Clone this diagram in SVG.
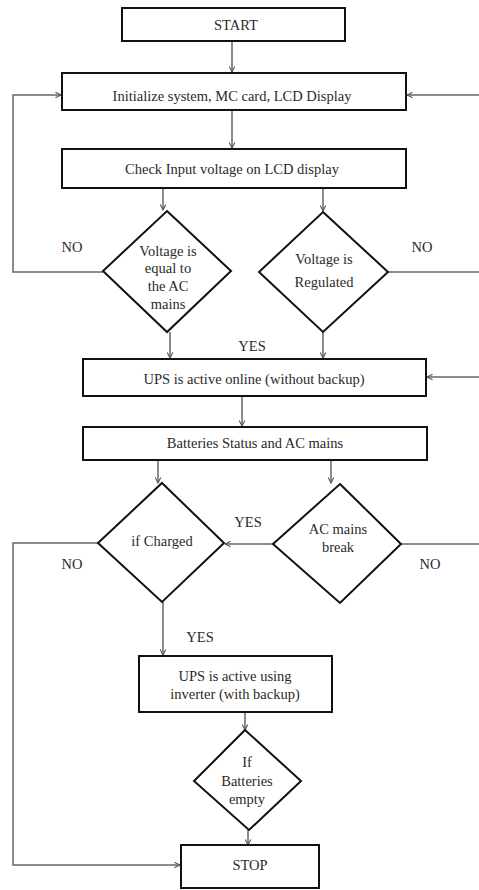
<svg xmlns="http://www.w3.org/2000/svg" width="479" height="890" viewBox="0 0 479 890">
<style>
.box{fill:#fff;stroke:#111;stroke-width:2}
.t{font-family:"Liberation Serif","Times New Roman",serif;font-size:14.5px;fill:#2a2a2a;text-anchor:middle}
.c{fill:none;stroke:#666;stroke-width:1.5}
</style>
<defs>
<marker id="ah" viewBox="0 0 10 10" refX="9" refY="5" markerWidth="7" markerHeight="7" orient="auto" markerUnits="userSpaceOnUse">
<path d="M1,1 L9,5 L1,9" fill="none" stroke="#555" stroke-width="1.5"/>
</marker>
</defs>
<rect width="479" height="890" fill="#fff"/>
<g id="connectors">
<path class="c" d="M232,42 V72" marker-end="url(#ah)"/>
<path class="c" d="M232,110 V148" marker-end="url(#ah)"/>
<path class="c" d="M163,188 V210" marker-end="url(#ah)"/>
<path class="c" d="M323,188 V211" marker-end="url(#ah)"/>
<path class="c" d="M103,272 H13 V95 H61" marker-end="url(#ah)"/>
<path class="c" d="M388,272 H479"/>
<path class="c" d="M479,95 H407" marker-end="url(#ah)"/>
<path class="c" d="M170,332 V358" marker-end="url(#ah)"/>
<path class="c" d="M323,332 V358" marker-end="url(#ah)"/>
<path class="c" d="M479,377 H427" marker-end="url(#ah)"/>
<path class="c" d="M242,396 V426" marker-end="url(#ah)"/>
<path class="c" d="M158,460 V483" marker-end="url(#ah)"/>
<path class="c" d="M331,460 V483" marker-end="url(#ah)"/>
<path class="c" d="M273,544 H225" marker-end="url(#ah)"/>
<path class="c" d="M98,543 H13 V865 H180" marker-end="url(#ah)"/>
<path class="c" d="M401,544 H479"/>
<path class="c" d="M163,602 V655" marker-end="url(#ah)"/>
<path class="c" d="M245,712 V730" marker-end="url(#ah)"/>
<path class="c" d="M248,830 V845" marker-end="url(#ah)"/>
<text class="t" x="72" y="252">NO</text>
<text class="t" x="422" y="252">NO</text>
<text class="t" x="252" y="351">YES</text>
<text class="t" x="248" y="527">YES</text>
<text class="t" x="72" y="569">NO</text>
<text class="t" x="430" y="569">NO</text>
<text class="t" x="200" y="642">YES</text>
</g>
<g id="start">
<rect class="box" x="122" y="8" width="223" height="33"/>
<text class="t" x="236" y="30">START</text>
</g>
<g id="init">
<rect class="box" x="62" y="73" width="344" height="37"/>
<text class="t" x="232" y="101">Initialize system, MC card, LCD Display</text>
</g>
<g id="check">
<rect class="box" x="62" y="149" width="344" height="39"/>
<text class="t" x="232" y="174">Check Input voltage on LCD display</text>
</g>
<g id="d-voltage-equal">
<polygon class="box" points="167,211 231,271 167,332 103,271"/>
<text class="t" x="168" y="256">Voltage is</text>
<text class="t" x="168" y="273">equal to</text>
<text class="t" x="168" y="291">the AC</text>
<text class="t" x="168" y="309">mains</text>
</g>
<g id="d-regulated">
<polygon class="box" points="323,212 388,272 323,332 259,272"/>
<text class="t" x="324" y="264">Voltage is</text>
<text class="t" x="324" y="287">Regulated</text>
</g>
<g id="ups-online">
<rect class="box" x="83" y="359" width="343" height="37"/>
<text class="t" x="254" y="384">UPS is active online (without backup)</text>
</g>
<g id="batteries">
<rect class="box" x="83" y="427" width="344" height="33"/>
<text class="t" x="255" y="448">Batteries Status and AC mains</text>
</g>
<g id="d-charged">
<polygon class="box" points="162,483 224,543 162,602 98,543"/>
<text class="t" x="162" y="546">if Charged</text>
</g>
<g id="d-ac-break">
<polygon class="box" points="340,484 401,544 340,603 273,544"/>
<text class="t" x="338" y="534">AC mains</text>
<text class="t" x="338" y="552">break</text>
</g>
<g id="ups-inverter">
<rect class="box" x="139" y="656" width="193" height="56"/>
<text class="t" x="235" y="681">UPS is active using</text>
<text class="t" x="235" y="699">inverter (with backup)</text>
</g>
<g id="d-empty">
<polygon class="box" points="245,730 301,781 249,830 194,781"/>
<text class="t" x="247" y="767">If</text>
<text class="t" x="247" y="786">Batteries</text>
<text class="t" x="247" y="804">empty</text>
</g>
<g id="stop">
<rect class="box" x="181" y="845" width="138" height="43"/>
<text class="t" x="250" y="870">STOP</text>
</g>
</svg>
